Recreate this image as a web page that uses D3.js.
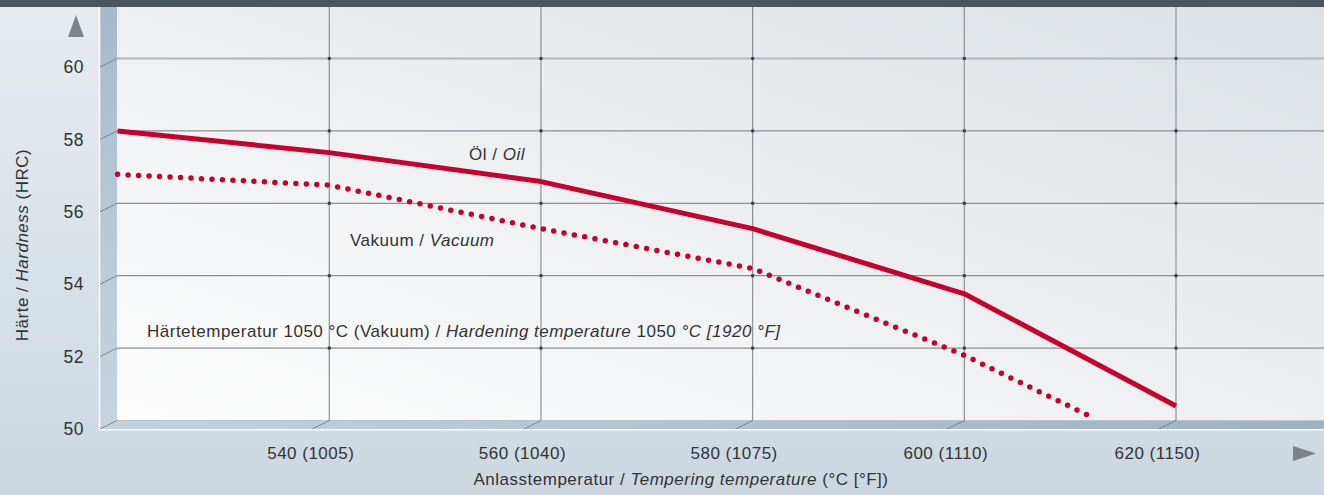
<!DOCTYPE html>
<html><head><meta charset="utf-8">
<script src="https://cdn.jsdelivr.net/npm/d3@7"></script>
<style>html,body{margin:0;padding:0;overflow:hidden;background:#dde4ea}svg{display:block}</style>
</head><body>
<svg id="chart" width="1324" height="495"></svg>
<script>
// ---- data ----
const temps = [520, 540, 560, 580, 600, 620];
const oil = [58.0, 57.4, 56.6, 55.3, 53.5, 50.4];
const vacuumTemps = [520, 540, 560, 580, 600, 612];
const vacuum = [56.8, 56.5, 55.3, 54.2, 51.8, 50.1];
const xTicks = [540, 560, 580, 600, 620];
const xTickLabels = ["540 (1005)", "560 (1040)", "580 (1075)", "600 (1110)", "620 (1150)"];
const yTicks = [50, 52, 54, 56, 58, 60];
const yTickLabels = ["50", "52", "54", "56", "58", "60"];

const W = 1324, H = 495;
const FONT = "'Liberation Sans', Arial, Helvetica, sans-serif";
const LS = 0.5;
const svg = d3.select("#chart");
const x = d3.scaleLinear().domain([520, 620]).range([117.6, 1176]);
const y = d3.scaleLinear().domain([50, 60]).range([420.5, 58.5]);
const DX = 17, DY = 8.5; // 3D offset
const pL = 117, pR = W, pT = 7, floorY = y(50);

const defs = svg.append("defs");
function lg(id, x1, y1, x2, y2, stops) {
  const g = defs.append("linearGradient").attr("id", id)
    .attr("x1", x1).attr("y1", y1).attr("x2", x2).attr("y2", y2);
  stops.forEach(s => g.append("stop").attr("offset", s[0]).attr("stop-color", s[1]));
}
lg("bg", 0, 0, 0, 1, [[0, "#e8ecf0"], [1, "#cbd7e0"]]);
lg("wall", 0, 1, 1, 0, [[0, "#fdfdfd"], [1, "#dce1e5"]]);
lg("lwall", 0, 0, 0, 1, [[0, "#a6bacb"], [1, "#c7d4df"]]);
lg("floor", 0, 0, 1, 0, [[0, "#c4d2dd"], [1, "#9cb2c3"]]);

svg.append("rect").attr("width", W).attr("height", H).attr("fill", "url(#bg)");
svg.append("rect").attr("x", pL).attr("y", pT).attr("width", pR - pL).attr("height", floorY - pT).attr("fill", "url(#wall)");
// left wall
svg.append("polygon").attr("points", `${pL - DX},${pT} ${pL},${pT} ${pL},${floorY} ${pL - DX},${floorY + DY}`).attr("fill", "url(#lwall)");
// floor
svg.append("polygon").attr("points", `${pL},${floorY} ${pR},${floorY} ${pR},${floorY + DY} ${pL - DX},${floorY + DY}`).attr("fill", "url(#floor)");
// white edges
svg.append("line").attr("x1", pL - DX - 0.5).attr("x2", pL - DX - 0.5).attr("y1", pT).attr("y2", floorY + DY + 1).attr("stroke", "#fff").attr("stroke-width", 1.5);
svg.append("line").attr("x1", pL - DX - 1).attr("x2", pR).attr("y1", floorY + DY + 0.75).attr("y2", floorY + DY + 0.75).attr("stroke", "#fff").attr("stroke-width", 1.5);
// floor back edge
svg.append("line").attr("x1", pL).attr("x2", pR).attr("y1", floorY).attr("y2", floorY).attr("stroke", "#b8c2ca").attr("stroke-width", 1);

// grid
const grid = svg.append("g");
grid.selectAll("line.h").data(yTicks.filter(v => v > 50)).join("line")
  .attr("x1", pL).attr("x2", pR).attr("y1", d => y(d)).attr("y2", d => y(d))
  .attr("stroke", d => d === 60 ? "#b2b6ba" : "#8c9094").attr("stroke-width", d => d === 60 ? 2 : 1.2);
grid.selectAll("line.v").data(xTicks).join("line")
  .attr("x1", d => x(d)).attr("x2", d => x(d)).attr("y1", pT).attr("y2", floorY)
  .attr("stroke", "#8c9094").attr("stroke-width", 1.2);
// slant lines on left wall and floor
grid.selectAll("line.sw").data(yTicks).join("line")
  .attr("x1", pL).attr("y1", d => y(d)).attr("x2", pL - DX).attr("y2", d => y(d) + DY)
  .attr("stroke", "#6f7478").attr("stroke-width", 0.8);
grid.selectAll("line.sf").data(xTicks).join("line")
  .attr("x1", d => x(d)).attr("y1", floorY).attr("x2", d => x(d) - DX).attr("y2", floorY + DY)
  .attr("stroke", "#6f7478").attr("stroke-width", 0.8);
// intersection marks
const inter = [];
xTicks.forEach(t => yTicks.filter(v => v > 50).forEach(v => inter.push([t, v])));
grid.selectAll("rect.i").data(inter).join("rect")
  .attr("x", d => x(d[0]) - 1.5).attr("y", d => y(d[1]) - 1.5).attr("width", 3).attr("height", 3).attr("fill", "#3a3e42");

// top dark bar
svg.append("rect").attr("width", W).attr("height", pT).attr("fill", "#4a5560");

// series
const red = "#c8002d";
const oilData = temps.map((t, i) => [t, oil[i]]);
const vacData = vacuumTemps.map((t, i) => [t, vacuum[i]]);
const line = d3.line().x(d => x(d[0])).y(d => y(d[1]));
svg.append("path").attr("d", line(oilData)).attr("fill", "none").attr("stroke", red).attr("stroke-width", 5).attr("stroke-linejoin", "round");
svg.append("path").attr("d", line(vacData)).attr("fill", "none").attr("stroke", red).attr("stroke-width", 5.5)
  .attr("stroke-linecap", "round").attr("stroke-dasharray", "0 10.5");

// axes
const yAxis = d3.axisLeft(y).tickValues(yTicks).tickFormat((d, i) => yTickLabels[i]).tickSize(0).tickPadding(0);
const gy = svg.append("g").attr("transform", `translate(84,${DY})`).call(yAxis);
gy.select(".domain").remove();
gy.selectAll("text").attr("font-family", FONT).attr("font-size", 17.5).attr("letter-spacing", LS).attr("fill", "#333");

const xAxis = d3.axisBottom(x).tickValues(xTicks).tickFormat((d, i) => xTickLabels[i]).tickSize(0).tickPadding(18);
const gx = svg.append("g").attr("transform", `translate(${-19},${floorY + DY})`).call(xAxis);
gx.select(".domain").remove();
gx.selectAll("text").attr("font-family", FONT).attr("font-size", 17).attr("letter-spacing", LS).attr("fill", "#333");

// arrows
svg.append("polygon").attr("points", "68,37 76,15 84,37").attr("fill", "#7f8387");
svg.append("polygon").attr("points", "1293,446 1316,453.5 1293,461").attr("fill", "#7f8387");

// text helper
function mixed(sel, parts) {
  parts.forEach(p => sel.append("tspan").text(p[0]).attr("font-style", p[1] ? "italic" : "normal"));
}
const tx = (xx, yy, anchor) => svg.append("text").attr("x", xx).attr("y", yy).attr("text-anchor", anchor)
  .attr("font-family", FONT).attr("font-size", 17).attr("letter-spacing", LS).attr("fill", "#333");

mixed(tx(525, 160, "end"), [["Öl / ", false], ["Oil", true]]);
mixed(tx(350, 246, "start"), [["Vakuum / ", false], ["Vacuum", true]]);
mixed(tx(147, 337, "start"), [["Härtetemperatur 1050 °C (Vakuum) / ", false], ["Hardening temperature", true], [" 1050 ", false], ["°C [1920 °F]", true]]);
mixed(tx(681, 485, "middle"), [["Anlasstemperatur / ", false], ["Tempering temperature", true], [" (°C [°F])", false]]);
const yt = svg.append("text").attr("transform", "translate(28,245) rotate(-90)").attr("text-anchor", "middle")
  .attr("font-family", FONT).attr("font-size", 17).attr("letter-spacing", LS).attr("fill", "#333");
mixed(yt, [["Härte / ", false], ["Hardness", true], [" (HRC)", false]]);
</script>
</body></html>
